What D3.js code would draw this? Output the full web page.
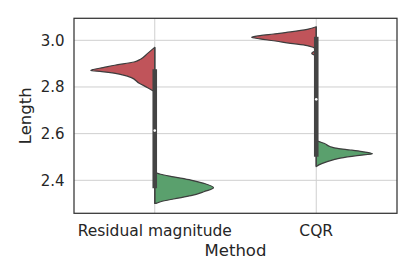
<!DOCTYPE html>
<html><head><meta charset="utf-8">
<script src="https://cdn.jsdelivr.net/npm/d3@7"></script>
<style>body{margin:0;background:#fff}svg{display:block}text{font-family:"DejaVu Sans",sans-serif;fill:#262626}</style>
</head><body><svg id="c" width="415" height="277"></svg>
<script>
const categories = ["Residual magnitude", "CQR"];
const yTicks = [2.4, 2.6, 2.8, 3.0];
const yTickLabels = ["2.4", "2.6", "2.8", "3.0"];
const xLabel = "Method", yLabel = "Length";

// estimated density profiles (Length value, relative density)
const resRedVals  = [2.970, 2.944, 2.919, 2.907, 2.893, 2.883, 2.875, 2.871, 2.866, 2.859, 2.850, 2.841, 2.816, 2.797, 2.784];
const resRedDens  = [0.00, 0.11, 0.22, 0.32, 0.62, 0.80, 0.95, 0.99, 0.82, 0.63, 0.47, 0.37, 0.24, 0.11, 0.03];
const resGreenVals = [2.432, 2.426, 2.415, 2.401, 2.387, 2.368, 2.351, 2.334, 2.320, 2.308, 2.301];
const resGreenDens = [0.02, 0.09, 0.29, 0.56, 0.76, 0.91, 0.76, 0.56, 0.29, 0.09, 0.02];
const cqrRedVals  = [3.058, 3.047, 3.036, 3.027, 3.020, 3.013, 3.006, 2.998, 2.987, 2.977, 2.970, 2.965, 2.954, 2.950, 2.944, 2.939, 2.935];
const cqrRedDens  = [0.00, 0.14, 0.40, 0.66, 0.87, 1.00, 0.87, 0.66, 0.40, 0.14, 0.05, 0.01, 0.01, 0.05, 0.07, 0.05, 0.00];
const cqrGreenVals = [2.573, 2.566, 2.559, 2.544, 2.537, 2.530, 2.523, 2.514, 2.506, 2.495, 2.480, 2.466, 2.459];
const cqrGreenDens = [0.00, 0.04, 0.12, 0.22, 0.33, 0.53, 0.71, 0.87, 0.63, 0.37, 0.17, 0.04, 0.00];

// box stats per category: [min, q1, median, q3, max]
const boxStats = [[2.301, 2.366, 2.613, 2.876, 2.970], [2.459, 2.501, 2.747, 3.015, 3.058]];

const violins = [
  {cat: 0, side: -1, vals: resRedVals, dens: resRedDens, color: "#c0545a"},
  {cat: 0, side: 1, vals: resGreenVals, dens: resGreenDens, color: "#5aa06d"},
  {cat: 1, side: -1, vals: cqrRedVals, dens: cqrRedDens, color: "#c0545a"},
  {cat: 1, side: 1, vals: cqrGreenVals, dens: cqrGreenDens, color: "#5aa06d"}
];

const W = 415, H = 277, m = {l: 74, r: 18, t: 18.3, b: 63.7};
const svg = d3.select("#c");
const x = d3.scalePoint().domain(categories).range([m.l, W - m.r]).padding(0.5);
const y = d3.scaleLinear().domain([2.2586, 3.0943]).range([H - m.b, m.t]);
const w = d3.scaleLinear().domain([0, 1]).range([0, x.step() * 0.4]);

// grid
const g = svg.append("g");
g.selectAll(".hy").data(yTicks).join("line")
  .attr("x1", m.l).attr("x2", W - m.r).attr("y1", d => y(d)).attr("y2", d => y(d))
  .attr("stroke", "#cfcfcf").attr("stroke-width", 1);
g.selectAll(".vx").data(categories).join("line")
  .attr("x1", d => x(d)).attr("x2", d => x(d)).attr("y1", m.t).attr("y2", H - m.b)
  .attr("stroke", "#cfcfcf").attr("stroke-width", 1);

// violins
violins.forEach(v => {
  const cx = x(categories[v.cat]);
  const pts = v.vals.map((val, i) => [val, v.dens[i]]);
  const area = d3.area().curve(d3.curveMonotoneY)
    .y(d => y(d[0])).x0(cx).x1(d => cx + v.side * w(d[1]));
  svg.append("path").attr("d", area(pts))
    .attr("fill", v.color).attr("stroke", "#3d3d3d").attr("stroke-width", 1.2)
    .attr("stroke-linejoin", "round");
});

// inner box
boxStats.forEach((s, i) => {
  const cx = x(categories[i]);
  svg.append("line").attr("x1", cx).attr("x2", cx).attr("y1", y(s[0])).attr("y2", y(s[4]))
    .attr("stroke", "#444").attr("stroke-width", 1.4);
  svg.append("line").attr("x1", cx).attr("x2", cx).attr("y1", y(s[1])).attr("y2", y(s[3]))
    .attr("stroke", "#444").attr("stroke-width", 4.6);
  svg.append("circle").attr("cx", cx).attr("cy", y(s[2])).attr("r", 1.3).attr("fill", "#fff");
});

// frame
svg.append("rect").attr("x", m.l).attr("y", m.t).attr("width", W - m.r - m.l).attr("height", H - m.b - m.t)
  .attr("fill", "none").attr("stroke", "#333").attr("stroke-width", 1.25);

// y tick labels
svg.selectAll(".yt").data(yTicks).join("text")
  .attr("x", m.l - 9.5).attr("y", d => y(d)).attr("dy", "0.36em")
  .attr("text-anchor", "end").attr("font-size", 15).text((d, i) => yTickLabels[i]);
// x tick labels
svg.selectAll(".xt").data(categories).join("text")
  .attr("x", d => x(d)).attr("y", H - m.b + 22.7)
  .attr("text-anchor", "middle").attr("font-size", 15.5).text(d => d);
// axis labels
svg.append("text").attr("x", (m.l + W - m.r) / 2).attr("y", 255.5)
  .attr("text-anchor", "middle").attr("font-size", 16.5).text(xLabel);
svg.append("text").attr("transform", `translate(31,${(m.t + H - m.b) / 2}) rotate(-90)`)
  .attr("text-anchor", "middle").attr("font-size", 16.5).text(yLabel);
</script></body></html>
